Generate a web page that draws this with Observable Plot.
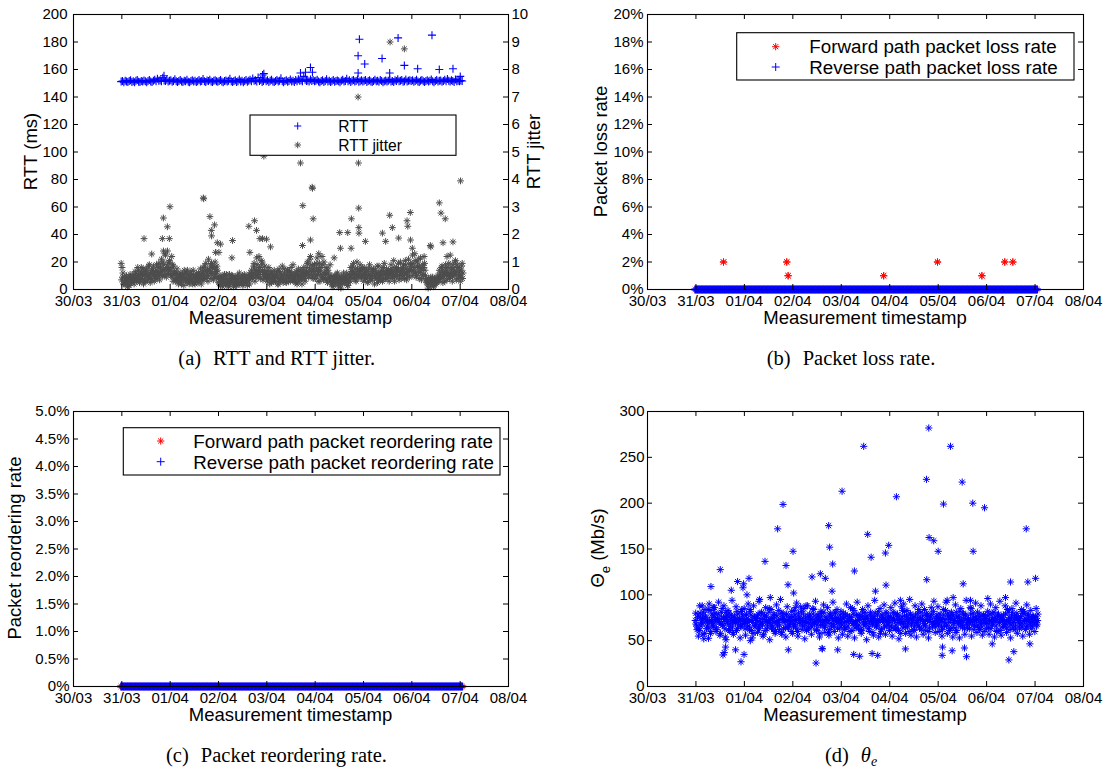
<!DOCTYPE html>
<html>
<head>
<meta charset="utf-8">
<script src="https://cdn.jsdelivr.net/npm/d3@7"></script>
<script src="https://cdn.jsdelivr.net/npm/@observablehq/plot@0.6"></script>
<style>
  body { margin: 0; background: #fff; }
  #fig { position: relative; width: 1107px; height: 769px; background: #fff; overflow: hidden; }
  .panel { position: absolute; }
  .cap { position: absolute; width: 400px; text-align: center; font-family: "Liberation Serif", "Times New Roman", serif;
         font-size: 20.5px; line-height: 20px; color: #000; white-space: nowrap; }
  .gap { display: inline-block; width: 12px; }
</style>
</head>
<body>
<div id="fig"></div>
<script>
// ---------------- DATA ----------------
const dayTicks = ["2009-03-30","2009-03-31","2009-04-01","2009-04-02","2009-04-03","2009-04-04","2009-04-05","2009-04-06","2009-04-07","2009-04-08"];
const firstSample = "2009-03-30T23:40Z";
const sampleMinutes = 40;

// RTT (ms), one value per sample
const rtt = [
151.2,151.6,150.8,151.9,151.3,150.9,151.6,152.1,151.0,151.4,150.7,151.8,152.3,151.1,150.9,151.6,151.2,152.0,151.4,150.8,151.7,152.4,151.3,151.0,151.9,152.6,151.5,153.2,151.8,152.2,151.4,154.0,152.0,151.6,152.5,151.3,
151.8,152.2,151.1,151.6,152.9,151.4,150.9,151.7,152.3,151.2,151.0,151.9,151.5,152.6,151.1,150.8,151.6,152.1,151.3,151.8,150.9,151.5,152.4,151.2,151.7,153.1,151.4,151.0,152.0,151.6,152.5,151.3,150.9,151.8,152.2,151.5,
151.1,151.7,152.4,151.3,150.8,151.6,152.0,151.2,151.9,153.3,151.4,150.9,151.7,152.2,151.0,151.5,152.8,151.3,151.8,150.7,151.6,152.3,151.1,151.9,152.6,151.4,153.5,151.8,152.1,151.2,154.2,151.6,152.4,151.0,151.7,152.9,
151.5,152.1,151.0,151.8,152.6,151.3,150.9,151.6,152.3,151.2,151.9,153.6,151.4,150.8,151.7,152.2,151.1,151.6,152.7,151.3,151.9,151.0,152.4,151.5,153.0,151.8,152.2,151.4,155.0,152.6,151.7,152.0,151.3,152.8,151.6,152.3,
151.4,151.9,152.5,151.2,150.8,151.7,152.2,151.0,151.6,152.9,151.3,151.8,150.9,151.5,152.3,151.1,151.7,152.0,151.4,150.8,151.9,152.6,151.2,151.6,153.2,151.5,152.1,151.0,151.8,152.4,151.3,151.7,152.8,151.1,151.5,152.2,
151.3,151.8,152.4,151.0,151.6,152.1,151.2,150.9,151.7,152.5,151.4,151.9,151.1,152.3,151.6,150.8,151.5,152.0,151.3,151.8,152.7,151.2,151.6,151.0,152.2,151.7,153.0,151.4,151.9,152.4,151.1,151.5,152.8,151.3,151.8,152.1,
151.6,152.2,151.1,151.7,152.6,151.3,150.9,151.8,152.3,151.4,151.0,151.6,152.1,151.2,151.9,152.7,151.5,150.8,151.7,152.4,151.3,151.8,152.0,151.1,151.6,152.5,151.4,153.1,151.9,151.2,152.2,151.7,151.0,152.8,151.5,151.8,
151.4,152.0,151.6];
const rttSpikes = [
["2009-03-31T20:56Z",155.5],["2009-04-02T21:52Z",156],["2009-04-02T22:31Z",157],["2009-04-03T16:42Z",157.5],
["2009-04-03T19:12Z",158],["2009-04-03T21:40Z",161.5],["2009-04-03T22:39Z",158],["2009-04-04T21:19Z",170],
["2009-04-04T21:20Z",157.5],["2009-04-04T21:58Z",182],["2009-04-05T00:36Z",164],["2009-04-05T09:13Z",168],
["2009-04-05T13:00Z",157.5],["2009-04-05T17:10Z",183],["2009-04-05T20:17Z",163],["2009-04-06T02:53Z",160.5],
["2009-04-06T10:00Z",185],["2009-04-06T13:38Z",160],["2009-04-06T20:26Z",160.5],["2009-04-07T00:03Z",155]];

// RTT jitter (right axis units), three measurements per sample slot
const jitterA = [
0.95,0.45,0.3,0.2,0.5,0.35,0.15,0.4,0.25,0.5,0.3,0.6,0.45,0.7,0.35,0.8,0.5,0.65,0.3,0.75,0.55,0.9,0.4,0.6,0.85,0.5,0.7,0.45,0.95,0.6,1.1,0.75,0.5,1.25,0.8,0.6,
1.05,0.7,0.45,0.85,0.6,0.35,0.5,0.3,0.6,0.2,0.45,0.7,0.35,0.25,0.55,0.4,0.65,0.3,0.5,0.2,0.6,0.45,0.35,0.75,0.5,0.8,0.45,0.95,0.6,1.1,0.7,0.4,0.85,0.55,1.0,0.65,
0.5,0.3,0.15,0.45,0.25,0.55,0.2,0.35,0.1,0.4,0.3,0.5,0.2,0.45,0.15,0.35,0.6,0.25,0.4,0.2,0.5,0.3,0.15,0.45,0.35,0.7,0.5,0.95,0.6,1.15,0.45,0.8,0.65,1.0,0.55,0.85,
0.6,0.35,0.8,0.45,0.25,0.55,0.7,0.3,0.5,0.2,0.65,0.4,0.85,0.35,0.55,0.25,0.7,0.45,0.3,0.6,0.9,0.4,0.5,0.2,0.75,0.35,0.6,0.45,0.8,0.3,0.65,1.0,0.5,1.2,0.7,0.4,
0.9,0.5,1.15,0.65,0.3,0.8,0.45,1.0,0.55,0.35,0.7,0.4,0.3,0.5,0.15,0.4,0.25,0.6,0.1,0.35,0.5,0.2,0.45,0.3,0.6,0.15,0.55,0.8,0.4,0.95,0.6,0.3,0.75,0.5,0.9,0.45,
0.55,0.8,0.4,0.65,0.3,0.9,0.5,0.35,0.75,0.45,0.6,0.25,0.85,0.5,0.7,0.35,0.95,0.55,0.4,0.7,0.5,0.9,0.6,1.05,0.45,0.8,0.65,0.35,1.0,0.55,0.75,0.4,0.9,0.6,1.1,0.7,
0.9,1.25,0.6,1.05,0.5,0.8,0.4,1.15,0.7,0.55,0.95,0.35,0.2,0.4,0.1,0.3,0.45,0.15,0.35,0.25,0.5,0.7,0.4,0.85,0.55,0.3,0.75,0.6,0.95,0.45,0.7,0.9,0.5,1.05,0.65,0.4,
0.75,0.45,0.95];
const jitterB = [
0.8,0.2,0.45,0.3,0.1,0.4,0.55,0.25,0.35,0.2,0.45,0.3,0.55,0.25,0.6,0.4,0.2,0.55,0.7,0.35,0.45,0.25,0.7,0.5,0.3,0.65,0.4,0.8,0.35,0.7,0.5,0.9,1.3,0.45,0.7,1.0,
0.55,1.2,0.3,0.65,0.4,0.75,0.2,0.45,0.35,0.55,0.15,0.4,0.6,0.3,0.2,0.5,0.35,0.7,0.25,0.45,0.3,0.6,0.5,0.2,0.65,0.35,0.7,0.5,0.3,0.75,0.9,0.6,0.35,0.8,0.45,0.7,
0.25,0.45,0.35,0.1,0.5,0.2,0.4,0.15,0.55,0.25,0.45,0.1,0.35,0.3,0.5,0.2,0.25,0.45,0.15,0.55,0.3,0.4,0.5,0.2,0.6,0.4,0.85,0.3,0.7,0.55,1.2,0.4,0.9,0.35,0.7,0.5,
0.3,0.55,0.2,0.65,0.4,0.3,0.45,0.6,0.2,0.75,0.35,0.5,0.25,0.6,0.4,0.7,0.3,0.55,0.8,0.35,0.5,0.25,0.65,0.45,0.3,0.55,0.2,0.7,0.4,0.6,0.95,0.45,1.1,0.6,0.85,0.55,
0.4,0.75,0.3,0.95,0.55,1.2,0.35,0.6,0.8,0.25,0.5,0.9,0.2,0.1,0.45,0.3,0.55,0.2,0.4,0.05,0.3,0.6,0.25,0.5,0.15,0.4,0.3,0.65,0.85,0.5,0.35,1.0,0.55,0.7,0.4,0.8,
0.3,0.45,0.7,0.25,0.55,0.4,0.75,0.6,0.2,0.5,0.85,0.35,0.45,0.65,0.3,0.6,0.4,0.75,0.55,0.3,0.7,0.4,0.55,0.3,0.75,0.5,0.95,0.6,0.4,0.8,0.5,1.05,0.35,0.65,0.45,0.85,
0.5,0.7,1.3,0.45,0.85,1.1,0.6,0.35,0.9,1.2,0.5,0.25,0.05,0.3,0.45,0.2,0.1,0.35,0.25,0.45,0.3,0.45,0.8,0.25,0.6,0.9,0.35,0.5,0.4,0.8,0.3,0.55,1.0,0.35,0.8,0.6,
0.3,0.85,0.6];
const jitterC = [
0.35,0.6,0.25,0.4,0.3,0.15,0.45,0.3,0.5,0.4,0.65,0.35,0.8,0.5,0.4,0.6,0.75,0.3,0.55,0.45,0.85,0.6,0.35,0.7,0.55,0.4,0.9,0.6,0.5,0.85,0.65,1.0,0.7,0.55,0.9,0.75,
0.8,0.5,0.9,0.55,0.3,0.6,0.4,0.55,0.25,0.5,0.35,0.6,0.45,0.7,0.4,0.3,0.55,0.2,0.45,0.35,0.5,0.25,0.55,0.4,0.35,0.6,0.85,0.4,0.7,0.5,0.6,0.95,0.75,0.45,0.65,0.85,
0.4,0.2,0.5,0.3,0.4,0.25,0.55,0.3,0.2,0.35,0.5,0.25,0.4,0.15,0.3,0.45,0.2,0.35,0.5,0.3,0.4,0.25,0.35,0.55,0.45,0.5,0.6,0.75,0.45,0.9,0.65,0.55,1.05,0.7,0.45,0.6,
0.45,0.7,0.4,0.55,0.6,0.45,0.35,0.5,0.65,0.4,0.3,0.55,0.45,0.75,0.3,0.5,0.4,0.65,0.55,0.45,0.35,0.6,0.3,0.55,0.45,0.7,0.4,0.55,0.6,0.5,0.8,0.6,0.75,0.9,0.45,0.7,
0.65,0.95,0.55,0.8,0.7,0.45,0.9,0.6,0.4,0.75,0.6,0.35,0.45,0.3,0.25,0.5,0.35,0.45,0.3,0.2,0.4,0.35,0.3,0.45,0.35,0.25,0.45,0.55,0.65,0.45,0.75,0.55,0.45,0.65,0.7,0.55,
0.7,0.5,0.6,0.45,0.75,0.55,0.4,0.65,0.5,0.7,0.4,0.6,0.55,0.35,0.5,0.8,0.6,0.45,0.65,0.55,0.6,0.7,0.45,0.8,0.65,0.55,0.75,0.5,0.7,0.65,0.9,0.6,0.75,0.5,0.7,0.95,
0.7,0.95,0.8,0.6,1.0,0.65,0.85,0.75,0.5,0.8,0.7,0.4,0.3,0.2,0.35,0.25,0.3,0.4,0.2,0.3,0.35,0.6,0.5,0.7,0.45,0.65,0.55,0.8,0.6,0.55,0.5,0.75,0.65,0.6,0.9,0.5,
0.55,0.7,0.4];
const jitterSpikes = [
["2009-03-31T11:01Z",1.85],["2009-03-31T14:50Z",1.29],["2009-03-31T20:08Z",1.85],["2009-03-31T20:38Z",2.6],["2009-03-31T20:40Z",1.4],
["2009-03-31T22:37Z",2.28],["2009-03-31T22:40Z",1.4],["2009-03-31T23:36Z",1.85],["2009-03-31T23:54Z",3.01],
["2009-04-01T16:28Z",3.33],["2009-04-01T16:40Z",3.30],["2009-04-01T19:44Z",2.65],["2009-04-01T20:26Z",2.15],["2009-04-01T20:34Z",1.95],
["2009-04-01T22:03Z",2.35],["2009-04-01T22:33Z",1.35],["2009-04-01T23:24Z",1.7],["2009-04-02T00:12Z",1.35],["2009-04-02T01:02Z",1.65],
["2009-04-02T06:39Z",1.15],["2009-04-02T06:59Z",1.78],["2009-04-02T15:04Z",2.3],["2009-04-02T15:34Z",1.35],["2009-04-02T17:54Z",2.5],
["2009-04-02T18:53Z",2.15],["2009-04-02T20:31Z",1.85],["2009-04-02T21:52Z",1.85],["2009-04-02T22:31Z",4.85],["2009-04-02T23:51Z",1.83],
["2009-04-03T01:50Z",1.55],["2009-04-03T16:42Z",4.6],["2009-04-03T17:42Z",1.6],["2009-04-03T17:51Z",3.05],["2009-04-03T21:40Z",1.8],
["2009-04-03T22:30Z",3.72],["2009-04-03T22:40Z",3.68],["2009-04-03T23:01Z",2.57],["2009-04-04T01:47Z",1.3],["2009-04-04T09:26Z",1.15],
["2009-04-04T12:11Z",2.07],["2009-04-04T12:33Z",1.5],["2009-04-04T16:10Z",2.07],["2009-04-04T17:51Z",1.5],["2009-04-04T18:00Z",2.57],
["2009-04-04T21:19Z",7.0],["2009-04-04T21:30Z",4.6],["2009-04-04T21:37Z",2.96],["2009-04-04T21:40Z",2.25],["2009-04-04T21:45Z",2.05],
["2009-04-05T00:56Z",1.75],["2009-04-05T09:23Z",2.05],["2009-04-05T11:01Z",1.75],["2009-04-05T13:00Z",2.7],["2009-04-05T13:12Z",9.0],
["2009-04-05T14:20Z",2.25],["2009-04-05T17:27Z",1.87],["2009-04-05T20:17Z",8.75],["2009-04-05T21:37Z",2.5],["2009-04-05T22:00Z",2.3],
["2009-04-05T23:15Z",2.8],["2009-04-05T23:20Z",1.8],["2009-04-06T00:15Z",1.5],["2009-04-06T09:10Z",1.6],["2009-04-06T09:25Z",1.55],
["2009-04-06T13:38Z",3.15],["2009-04-06T14:28Z",2.78],["2009-04-06T15:29Z",1.7],["2009-04-06T16:36Z",2.57],["2009-04-06T17:27Z",1.2],
["2009-04-06T19:05Z",1.25],["2009-04-06T20:26Z",1.73],["2009-04-07T00:11Z",3.95]];

// Packet loss rate (%), per sample
const forwardLoss = [
0,0,0,0,0,0, 0,0,0,0,0,0, 0,0,0,0,0,0, 0,0,0,2,0,0, 0,0,0,0,0,0, 0,0,0,0,0,0,
0,0,0,0,0,0, 0,0,0,0,0,0, 0,0,0,0,0,0, 0,0,0,0,0,0, 0,0,0,0,0,0, 0,0,2,1,0,0,
0,0,0,0,0,0, 0,0,0,0,0,0, 0,0,0,0,0,0, 0,0,0,0,0,0, 0,0,0,0,0,0, 0,0,0,0,0,0,
0,0,0,0,0,0, 0,0,0,0,0,0, 0,0,0,0,0,0, 0,0,0,0,0,0, 0,0,0,0,0,0, 0,0,1,0,0,0,
0,0,0,0,0,0, 0,0,0,0,0,0, 0,0,0,0,0,0, 0,0,0,0,0,0, 0,0,0,0,0,0, 0,0,0,0,0,0,
2,0,0,0,0,0, 0,0,0,0,0,0, 0,0,0,0,0,0, 0,0,0,0,0,0, 0,0,0,0,0,0, 0,0,0,1,0,0,
0,0,0,0,0,0, 0,0,0,0,0,0, 0,0,2,0,0,0, 0,0,2,0,0,0, 0,0,0,0,0,0, 0,0,0,0,0,0,
0,0,0];
const reverseLoss = [
0,0,0,0,0,0, 0,0,0,0,0,0, 0,0,0,0,0,0, 0,0,0,0,0,0, 0,0,0,0,0,0, 0,0,0,0,0,0,
0,0,0,0,0,0, 0,0,0,0,0,0, 0,0,0,0,0,0, 0,0,0,0,0,0, 0,0,0,0,0,0, 0,0,0,0,0,0,
0,0,0,0,0,0, 0,0,0,0,0,0, 0,0,0,0,0,0, 0,0,0,0,0,0, 0,0,0,0,0,0, 0,0,0,0,0,0,
0,0,0,0,0,0, 0,0,0,0,0,0, 0,0,0,0,0,0, 0,0,0,0,0,0, 0,0,0,0,0,0, 0,0,0,0,0,0,
0,0,0,0,0,0, 0,0,0,0,0,0, 0,0,0,0,0,0, 0,0,0,0,0,0, 0,0,0,0,0,0, 0,0,0,0,0,0,
0,0,0,0,0,0, 0,0,0,0,0,0, 0,0,0,0,0,0, 0,0,0,0,0,0, 0,0,0,0,0,0, 0,0,0,0,0,0,
0,0,0,0,0,0, 0,0,0,0,0,0, 0,0,0,0,0,0, 0,0,0,0,0,0, 0,0,0,0,0,0, 0,0,0,0,0,0,
0,0,0];
// Packet reordering rate (%), per sample
const forwardReorder = [
0,0,0,0,0,0, 0,0,0,0,0,0, 0,0,0,0,0,0, 0,0,0,0,0,0, 0,0,0,0,0,0, 0,0,0,0,0,0,
0,0,0,0,0,0, 0,0,0,0,0,0, 0,0,0,0,0,0, 0,0,0,0,0,0, 0,0,0,0,0,0, 0,0,0,0,0,0,
0,0,0,0,0,0, 0,0,0,0,0,0, 0,0,0,0,0,0, 0,0,0,0,0,0, 0,0,0,0,0,0, 0,0,0,0,0,0,
0,0,0,0,0,0, 0,0,0,0,0,0, 0,0,0,0,0,0, 0,0,0,0,0,0, 0,0,0,0,0,0, 0,0,0,0,0,0,
0,0,0,0,0,0, 0,0,0,0,0,0, 0,0,0,0,0,0, 0,0,0,0,0,0, 0,0,0,0,0,0, 0,0,0,0,0,0,
0,0,0,0,0,0, 0,0,0,0,0,0, 0,0,0,0,0,0, 0,0,0,0,0,0, 0,0,0,0,0,0, 0,0,0,0,0,0,
0,0,0,0,0,0, 0,0,0,0,0,0, 0,0,0,0,0,0, 0,0,0,0,0,0, 0,0,0,0,0,0, 0,0,0,0,0,0,
0,0,0];
const reverseReorder = [
0,0,0,0,0,0, 0,0,0,0,0,0, 0,0,0,0,0,0, 0,0,0,0,0,0, 0,0,0,0,0,0, 0,0,0,0,0,0,
0,0,0,0,0,0, 0,0,0,0,0,0, 0,0,0,0,0,0, 0,0,0,0,0,0, 0,0,0,0,0,0, 0,0,0,0,0,0,
0,0,0,0,0,0, 0,0,0,0,0,0, 0,0,0,0,0,0, 0,0,0,0,0,0, 0,0,0,0,0,0, 0,0,0,0,0,0,
0,0,0,0,0,0, 0,0,0,0,0,0, 0,0,0,0,0,0, 0,0,0,0,0,0, 0,0,0,0,0,0, 0,0,0,0,0,0,
0,0,0,0,0,0, 0,0,0,0,0,0, 0,0,0,0,0,0, 0,0,0,0,0,0, 0,0,0,0,0,0, 0,0,0,0,0,0,
0,0,0,0,0,0, 0,0,0,0,0,0, 0,0,0,0,0,0, 0,0,0,0,0,0, 0,0,0,0,0,0, 0,0,0,0,0,0,
0,0,0,0,0,0, 0,0,0,0,0,0, 0,0,0,0,0,0, 0,0,0,0,0,0, 0,0,0,0,0,0, 0,0,0,0,0,0,
0,0,0];

// Theta_e (Mb/s), three measurements per sample slot
const thetaA = [
72,66,78,61,74,69,81,58,75,70,64,83,71,67,77,73,62,79,70,68,85,74,63,76,71,80,66,73,59,77,70,82,68,74,65,78,
74,63,79,70,66,82,72,58,75,68,77,64,71,80,67,73,61,76,70,85,69,74,62,78,71,66,83,73,59,76,70,64,79,72,68,75,
71,65,78,73,60,76,69,82,72,66,75,70,63,79,74,68,84,71,62,77,73,67,80,70,64,76,72,59,78,69,74,66,81,71,75,63,
73,67,80,70,64,77,72,60,75,69,83,71,66,78,73,62,76,70,81,68,74,65,79,72,59,76,71,67,82,73,63,77,70,75,66,72,
70,76,64,81,72,67,78,61,74,69,83,71,65,77,73,60,79,70,75,66,72,68,84,74,62,77,71,67,80,73,64,76,70,82,68,74,
72,68,79,65,74,70,83,67,76,61,73,78,69,64,81,71,75,66,72,80,63,77,70,74,68,85,71,62,76,73,67,79,70,65,78,72,
74,70,64,79,72,67,81,73,60,76,70,75,65,78,71,68,84,73,62,77,70,74,66,80,72,63,76,69,82,71,65,78,73,68,75,70,
70,76,68];
const thetaB = [
68,75,63,80,70,57,73,77,66,84,72,60,75,69,80,64,74,71,58,76,67,73,81,69,62,75,78,65,72,70,61,79,73,66,84,71,
69,77,65,73,84,61,70,76,67,72,79,63,74,69,57,78,71,66,81,73,64,75,70,60,77,72,67,80,74,63,71,78,65,73,69,82,
76,68,72,63,80,70,74,66,85,71,61,77,69,73,65,79,70,75,67,72,58,76,71,81,66,73,69,62,77,74,68,80,72,64,70,78,
68,74,62,79,71,66,76,73,85,69,64,78,72,67,75,61,80,73,69,77,63,71,76,68,74,80,66,72,70,58,78,73,65,81,71,76,
75,66,72,80,63,77,70,73,58,76,68,82,71,65,74,79,67,72,61,78,70,75,64,81,73,69,66,77,72,60,75,79,68,71,65,78,
67,75,71,62,78,73,66,80,70,74,64,77,72,59,76,69,82,71,65,74,78,68,73,63,79,70,75,66,72,81,64,76,69,73,60,77,
69,77,72,63,80,71,74,66,78,70,61,76,73,68,79,64,72,75,67,81,70,62,77,73,69,76,65,80,72,74,66,78,71,63,76,73,
74,66,79];
const thetaC = [
80,62,55,88,66,76,52,84,63,71,90,58,79,65,86,60,73,92,56,81,67,88,54,77,83,61,69,94,57,75,87,63,72,53,82,68,
85,56,71,90,62,78,53,88,65,74,59,93,68,81,55,77,86,63,72,51,84,66,79,58,89,70,62,95,57,80,73,54,87,64,76,60,
58,83,66,91,55,74,87,62,79,52,70,88,64,76,57,85,69,93,61,78,54,82,67,89,59,73,86,56,80,65,92,60,75,84,53,71,
82,57,76,64,90,55,71,86,61,79,53,68,92,63,77,58,84,66,74,51,88,60,81,69,56,94,65,78,54,85,62,73,89,57,80,67,
61,86,55,74,91,63,79,52,70,87,64,77,58,83,69,95,56,75,62,88,54,80,66,73,90,57,84,61,78,53,71,86,65,93,59,76,
87,60,73,55,84,66,92,58,77,63,81,54,70,89,61,76,53,85,68,79,57,94,64,72,86,55,80,67,91,59,74,62,88,56,78,69,
63,82,57,90,68,75,54,86,61,79,93,56,72,65,88,59,81,70,53,85,64,77,91,58,74,67,84,55,80,62,89,71,57,83,66,76,
60,85,72];
const thetaSpikes = [
["2009-03-31T03:07Z",88],["2009-03-31T06:14Z",52.6],["2009-03-31T07:26Z",109],["2009-03-31T08:44Z",86],["2009-03-31T12:03Z",127.5],
["2009-03-31T13:23Z",34.4],["2009-03-31T14:02Z",37],["2009-03-31T14:40Z",43],["2009-03-31T14:53Z",51],["2009-03-31T17:30Z",105],
["2009-03-31T19:38Z",40],["2009-03-31T20:38Z",114.5],["2009-03-31T22:19Z",27],["2009-03-31T23:18Z",107.7],["2009-03-31T23:36Z",112],
["2009-03-31T23:50Z",35],["2009-04-01T01:17Z",100],["2009-04-01T02:17Z",118],["2009-04-01T02:56Z",50],["2009-04-01T07:32Z",95],
["2009-04-01T10:13Z",136.5],["2009-04-01T12:50Z",97],["2009-04-01T16:28Z",172],["2009-04-01T19:09Z",198.6],["2009-04-01T20:38Z",132],
["2009-04-01T21:37Z",111],["2009-04-01T21:46Z",40],["2009-04-02T00:06Z",147.5],["2009-04-02T00:24Z",102],["2009-04-02T01:15Z",86],
["2009-04-02T06:33Z",88],["2009-04-02T09:31Z",119.5],["2009-04-02T11:30Z",25.6],["2009-04-02T13:38Z",123],["2009-04-02T14:28Z",41.5],
["2009-04-02T14:38Z",41],["2009-04-02T16:06Z",118],["2009-04-02T17:45Z",175.5],["2009-04-02T18:14Z",152],["2009-04-02T19:26Z",104],
["2009-04-02T19:44Z",133.6],["2009-04-02T22:13Z",40],["2009-04-03T00:24Z",213],["2009-04-03T06:09Z",35],["2009-04-03T06:30Z",126],
["2009-04-03T09:07Z",33],["2009-04-03T11:07Z",262],["2009-04-03T13:05Z",166],["2009-04-03T14:47Z",141],["2009-04-03T15:16Z",36],
["2009-04-03T16:55Z",104],["2009-04-03T18:03Z",34],["2009-04-03T21:52Z",145.6],["2009-04-03T22:10Z",110.6],["2009-04-03T23:30Z",154],
["2009-04-04T03:19Z",207],["2009-04-04T05:18Z",94],["2009-04-04T06:56Z",90],["2009-04-04T07:47Z",41],["2009-04-04T18:12Z",226],
["2009-04-04T18:20Z",116.5],["2009-04-04T19:21Z",282],["2009-04-04T19:30Z",162.5],["2009-04-04T21:49Z",159],["2009-04-05T00:00Z",147.5],
["2009-04-05T01:59Z",34],["2009-04-05T02:10Z",43],["2009-04-05T02:38Z",199],["2009-04-05T04:28Z",94],["2009-04-05T06:06Z",262],
["2009-04-05T06:56Z",39],["2009-04-05T07:26Z",97],["2009-04-05T11:54Z",223],["2009-04-05T12:24Z",112],["2009-04-05T13:02Z",42],
["2009-04-05T14:02Z",32.5],["2009-04-05T16:00Z",94],["2009-04-05T17:09Z",200],["2009-04-05T17:20Z",147.5],["2009-04-05T22:58Z",195],
["2009-04-06T00:36Z",96],["2009-04-06T02:47Z",46.5],["2009-04-06T09:22Z",97],["2009-04-06T11:01Z",29],["2009-04-06T11:51Z",114],
["2009-04-06T13:29Z",38],["2009-04-06T19:38Z",172],["2009-04-06T20:25Z",114],["2009-04-06T21:26Z",46.5],["2009-04-07T00:15Z",118]];

const rttTicks = [0,20,40,60,80,100,120,140,160,180,200];
const jitterTicks = [0,1,2,3,4,5,6,7,8,9,10];
const lossTicks = [0,2,4,6,8,10,12,14,16,18,20];
const reorderTicks = [0,0.5,1,1.5,2,2.5,3,3.5,4,4.5,5];
const reorderTickLabels = ["0%","0.5%","1.0%","1.5%","2.0%","2.5%","3.0%","3.5%","4.0%","4.5%","5.0%"];
const thetaTicks = [0,50,100,150,200,250,300];

// ---------------- HELPERS ----------------
const FONT = "'Liberation Sans', Arial, Helvetica, sans-serif";
const days = dayTicks.map(d => new Date(d + "T00:00Z"));
const xDomain = [days[0], days[days.length - 1]];
const fmtDay = d3.utcFormat("%d/%m");
const t0 = new Date(firstSample).getTime();
const stepMs = sampleMinutes * 60000;
const slotTime = (i, offsetMin = 0) => new Date(t0 + i * stepMs + offsetMin * 60000);
const series = (arr, off = 0) => arr.map((v, i) => ({t: slotTime(i, off), v}));
const spikes = arr => arr.map(([t, v]) => ({t: new Date(t), v}));
const jitterToRtt = rttTicks[rttTicks.length - 1] / jitterTicks[jitterTicks.length - 1];

const plusSym = {draw(ctx, size) { const r = Math.sqrt(size / Math.PI);
  ctx.moveTo(-r, 0); ctx.lineTo(r, 0); ctx.moveTo(0, -r); ctx.lineTo(0, r); }};
const starSym = {draw(ctx, size) { const r = Math.sqrt(size / Math.PI), d = r * Math.SQRT1_2;
  ctx.moveTo(-r, 0); ctx.lineTo(r, 0); ctx.moveTo(0, -r); ctx.lineTo(0, r);
  ctx.moveTo(-d, -d); ctx.lineTo(d, d); ctx.moveTo(-d, d); ctx.lineTo(d, -d); }};
const symPath = (sym, r) => d3.symbol().type(sym).size(Math.PI * r * r)();

const BLUE = "#0000ff", RED = "#ff0000", GRAY = "#4d4d4d";
const fig = document.getElementById("fig");

function panel({left, top, width, marginLeft, marginRight, yDomain, yTicks, yFmt, yPad, rightTicks, rightFmt, marks}) {
  const height = 330, marginTop = 14, marginBottom = 41;
  const pw = width - marginLeft - marginRight, ph = height - marginTop - marginBottom;
  const rTicks = rightTicks || yTicks;
  const svg = Plot.plot({
    width, height, marginLeft, marginRight, marginTop, marginBottom,
    x: {type: "utc", domain: xDomain},
    y: {domain: yDomain},
    style: {fontFamily: FONT, fontSize: "15px", color: "black", background: "white", overflow: "visible"},
    marks: [
      ...marks,
      Plot.ruleX(days, {insetTop: ph - 5, stroke: "black"}),
      Plot.ruleX(days, {insetBottom: ph - 5, stroke: "black"}),
      Plot.ruleY(yTicks, {insetRight: pw - 5, stroke: "black"}),
      Plot.ruleY(rTicks, {insetLeft: pw - 5, stroke: "black"}),
      Plot.frame({stroke: "black", strokeWidth: 1.1}),
      Plot.axisX(days, {tickSize: 0, tickPadding: 6, tickFormat: fmtDay, label: null}),
      Plot.axisY(yTicks, {tickSize: 0, tickPadding: yPad, tickFormat: yFmt, label: null}),
      rightTicks ? Plot.axisY(rightTicks, {anchor: "right", tickSize: 0, tickPadding: 3, tickFormat: rightFmt, label: null}) : null
    ].filter(Boolean)
  });
  const div = document.createElement("div");
  div.className = "panel";
  Object.assign(div.style, {left: left + "px", top: top + "px", width: width + "px", height: height + "px"});
  div.appendChild(svg);
  fig.appendChild(div);
  return d3.select(svg);
}

function text(sel, {x, y, str, size = 18.5, anchor = "middle", rotate = false}) {
  const t = sel.append("text")
    .attr("transform", `translate(${x},${y})` + (rotate ? " rotate(-90)" : ""))
    .attr("text-anchor", anchor)
    .attr("font-family", FONT).attr("font-size", size).attr("fill", "black");
  if (str != null) t.text(str);
  return t;
}

function legend(sel, {box, items, size}) {
  const g = sel.append("g");
  g.append("rect").attr("x", box[0]).attr("y", box[1]).attr("width", box[2] - box[0]).attr("height", box[3] - box[1])
    .attr("fill", "white").attr("stroke", "black").attr("stroke-width", 1.1);
  for (const it of items) {
    g.append("path").attr("d", symPath(it.sym, it.r)).attr("transform", `translate(${it.sx},${it.sy})`)
      .attr("fill", "none").attr("stroke", it.color).attr("stroke-width", 1);
    text(g, {x: it.tx, y: it.ty, str: it.label, size, anchor: "start"});
  }
}

// ---------------- PANEL (a) ----------------
const jitterPts = [...series(jitterA), ...series(jitterC, 13), ...series(jitterB, 26), ...spikes(jitterSpikes)];
const rttPts = [...series(rtt), ...spikes(rttSpikes)];
const A = panel({
  left: 0, top: 0, width: 555, marginLeft: 73, marginRight: 47,
  yDomain: [0, 200], yTicks: rttTicks, yFmt: d => d, yPad: 6,
  rightTicks: jitterTicks.map(t => t * jitterToRtt), rightFmt: d => d / jitterToRtt,
  marks: [
    Plot.dot(jitterPts, {x: "t", y: d => d.v * jitterToRtt, symbol: starSym, r: 3.4, stroke: GRAY, fill: "none", strokeWidth: 1}),
    Plot.dot(rttPts, {x: "t", y: "v", symbol: plusSym, r: 4, stroke: BLUE, fill: "none", strokeWidth: 1.1})
  ]
});
text(A, {x: 290.5, y: 324, str: "Measurement timestamp"});
text(A, {x: 37, y: 151.5, str: "RTT (ms)", rotate: true});
text(A, {x: 540, y: 151.5, str: "RTT jitter", rotate: true});
legend(A, {box: [250, 115, 456, 155.3], size: 15.6, items: [
  {sym: plusSym, r: 3.6, color: BLUE, sx: 297.7, sy: 126, tx: 338.3, ty: 131.6, label: "RTT"},
  {sym: starSym, r: 3.3, color: GRAY, sx: 297.7, sy: 145, tx: 338.3, ty: 150.6, label: "RTT jitter"}
]});

// ---------------- PANEL (b) ----------------
const B = panel({
  left: 555, top: 0, width: 552, marginLeft: 92, marginRight: 24,
  yDomain: [0, 20], yTicks: lossTicks, yFmt: d => d + "%", yPad: 4,
  marks: [
    Plot.dot(series(forwardLoss), {x: "t", y: "v", symbol: starSym, r: 3.6, stroke: RED, fill: "none", strokeWidth: 1}),
    Plot.dot(series(reverseLoss), {x: "t", y: "v", symbol: plusSym, r: 4, stroke: BLUE, fill: "none", strokeWidth: 1.8}),
    Plot.dot(series(forwardLoss).filter(d => d.v > 0), {x: "t", y: "v", symbol: starSym, r: 3.6, stroke: RED, fill: "none", strokeWidth: 1})
  ]
});
text(B, {x: 310, y: 324, str: "Measurement timestamp"});
text(B, {x: 51.5, y: 151.5, str: "Packet loss rate", rotate: true});
legend(B, {box: [181.7, 32.7, 519, 80], size: 18.8, items: [
  {sym: starSym, r: 3.6, color: RED, sx: 220.7, sy: 46.7, tx: 254.3, ty: 53.3, label: "Forward path packet loss rate"},
  {sym: plusSym, r: 4, color: BLUE, sx: 220.7, sy: 67, tx: 254.3, ty: 73.5, label: "Reverse path packet loss rate"}
]});

// ---------------- PANEL (c) ----------------
const C = panel({
  left: 0, top: 397, width: 555, marginLeft: 73, marginRight: 47,
  yDomain: [0, 5], yTicks: reorderTicks, yFmt: d => reorderTickLabels[reorderTicks.indexOf(d)], yPad: 4,
  marks: [
    Plot.dot(series(forwardReorder), {x: "t", y: "v", symbol: starSym, r: 3.6, stroke: RED, fill: "none", strokeWidth: 1}),
    Plot.dot(series(reverseReorder), {x: "t", y: "v", symbol: plusSym, r: 4, stroke: BLUE, fill: "none", strokeWidth: 1.8})
  ]
});
text(C, {x: 290.5, y: 323.5, str: "Measurement timestamp"});
text(C, {x: 20.5, y: 151, str: "Packet reordering rate", rotate: true});
legend(C, {box: [123.3, 30.7, 500, 78], size: 18.8, items: [
  {sym: starSym, r: 3.6, color: RED, sx: 160.7, sy: 44, tx: 193.3, ty: 51.3, label: "Forward path packet reordering rate"},
  {sym: plusSym, r: 4, color: BLUE, sx: 160.7, sy: 64.7, tx: 193.3, ty: 72.3, label: "Reverse path packet reordering rate"}
]});

// ---------------- PANEL (d) ----------------
const thetaPts = [...series(thetaA), ...series(thetaC, 13), ...series(thetaB, 26), ...spikes(thetaSpikes)];
const D = panel({
  left: 555, top: 397, width: 552, marginLeft: 92, marginRight: 24,
  yDomain: [0, 300], yTicks: thetaTicks, yFmt: d => d, yPad: 3,
  marks: [
    Plot.dot(thetaPts, {x: "t", y: "v", symbol: starSym, r: 3.6, stroke: BLUE, fill: "none", strokeWidth: 1})
  ]
});
text(D, {x: 310, y: 323.5, str: "Measurement timestamp"});
const yl = text(D, {x: 48.5, y: 151, rotate: true});
yl.append("tspan").text("\u0398");
yl.append("tspan").attr("font-size", 13).attr("dy", 6).text("e");
yl.append("tspan").attr("dy", -6).text(" (Mb/s)");

// ---------------- CAPTIONS ----------------
const captions = [
  {x: 276.7, y: 347.7, html: '(a)<span class="gap"></span>RTT and RTT jitter.'},
  {x: 851, y: 347.7, html: '(b)<span class="gap"></span>Packet loss rate.'},
  {x: 276.5, y: 744.7, html: '(c)<span class="gap"></span>Packet reordering rate.'},
  {x: 851, y: 744.7, html: '(d)<span class="gap"></span><i>\u03b8<sub style="font-size:14px;vertical-align:-4px">e</sub></i>'}
];
for (const c of captions) {
  const d = document.createElement("div");
  d.className = "cap";
  d.style.left = (c.x - 200) + "px";
  d.style.top = c.y + "px";
  d.innerHTML = c.html;
  fig.appendChild(d);
}
</script>
</body>
</html>
